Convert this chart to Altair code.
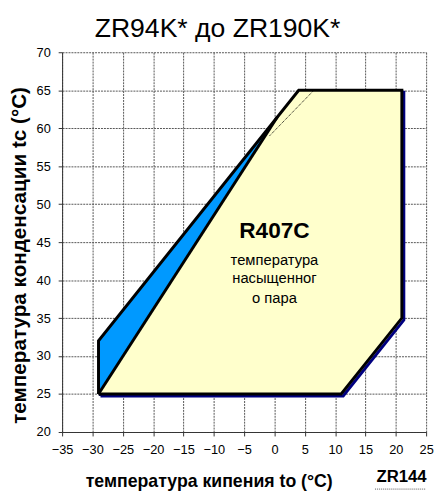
import altair as alt
import pandas as pd

# ---- data ----
# outer operating envelope (evaporating t, condensing tc), closed path
env_t = [-29, -29, 4, 21, 21, 11, -29]
env_tc = [25, 32, 65, 65, 35, 25, 25]

# blue region (between outer line and inner diagonal)
blue_t = [-29, 0.5]
blue_lo = [25, 61.5]
blue_hi = [32, 61.5]

# yellow region (R407C saturated vapour envelope)
yel_t = [-29, 0.5, 4, 11, 21]
yel_lo = [25, 25, 25, 25, 35]
yel_hi = [25, 61.5, 65, 65, 65]

# inner diagonal and dotted line
diag_t = [-29, 0.5]
diag_tc = [25, 61.5]
dot_t = [-0.8, 6.5]
dot_tc = [59, 65]

x_ticks = list(range(-35, 30, 5))
y_ticks = list(range(20, 75, 5))

title_text = ["ZR94K* до ZR190K*"]
big_label = ["R407C"]
small_labels = ["температура", "насыщенног", "о пара"]

FONT = "Liberation Sans"

env = pd.DataFrame({"t": env_t, "tc": env_tc, "i": range(len(env_t))})
blue = pd.DataFrame({"t": blue_t, "tc": blue_lo, "tc2": blue_hi})
yel = pd.DataFrame({"t": yel_t, "tc": yel_lo, "tc2": yel_hi})
diag = pd.DataFrame({"t": diag_t, "tc": diag_tc, "i": range(2)})
dot = pd.DataFrame({"t": dot_t, "tc": dot_tc, "i": range(2)})
big = pd.DataFrame({"t": [0], "tc": [46.4], "s": big_label})
small = pd.DataFrame({"t": [0, 0, 0], "tc": [42.7, 40.3, 37.7], "s": small_labels})

xscale = alt.Scale(domain=[-35, 25], nice=False, zero=False)
yscale = alt.Scale(domain=[20, 70], nice=False, zero=False)

xaxis = alt.Axis(values=x_ticks, title="температура кипения to (°C)",
                 titleFont=FONT, titleFontSize=18, titleFontWeight="bold",
                 titleColor="black", titleX=149, titleY=50, titleBaseline="middle",
                 labelFont=FONT, labelFontSize=13, labelColor="black",
                 labelPadding=8, tickSize=4, tickColor="#333", domainColor="#333",
                 gridColor="#555", gridDash=[2, 1], labelFlush=False,
                 labelOverlap=False)
yaxis = alt.Axis(values=y_ticks, title="температура конденсации tc (°C)",
                 titleFont=FONT, titleFontSize=21, titleFontWeight="bold",
                 titleColor="black", titleX=-43, titleY=206, titleBaseline="middle",
                 labelFont=FONT, labelFontSize=13, labelColor="black",
                 labelPadding=8, tickSize=4, tickColor="#333", domainColor="#333",
                 gridColor="#555", gridDash=[2, 1], labelFlush=False,
                 labelOverlap=False)

X = alt.X("t:Q", scale=xscale, axis=xaxis)
Y = alt.Y("tc:Q", scale=yscale, axis=yaxis)

shadow = alt.Chart(env).mark_line(color="#000080", strokeWidth=3, xOffset=2,
                                  yOffset=2, strokeJoin="miter").encode(
    x=X, y=Y, order="i:Q")
blue_area = alt.Chart(blue).mark_area(color="#0099FF", opacity=1).encode(
    x=X, y=Y, y2="tc2:Q")
yel_area = alt.Chart(yel).mark_area(color="#FFFFCC", opacity=1).encode(
    x=X, y=Y, y2="tc2:Q")
outline = alt.Chart(env).mark_line(color="black", strokeWidth=3,
                                   strokeJoin="miter").encode(
    x=X, y=Y, order="i:Q")
diag_line = alt.Chart(diag).mark_line(color="black", strokeWidth=3).encode(
    x=X, y=Y, order="i:Q")
dot_line = alt.Chart(dot).mark_line(color="black", strokeWidth=1,
                                    strokeDash=[1, 1]).encode(
    x=X, y=Y, order="i:Q")
big_text = alt.Chart(big).mark_text(font=FONT, fontSize=23, fontWeight="bold",
                                    color="black").encode(x=X, y=Y, text="s:N")
small_text = alt.Chart(small).mark_text(font=FONT, fontSize=15,
                                        color="black").encode(x=X, y=Y, text="s:N")
title = alt.Chart(pd.DataFrame({"s": title_text})).mark_text(
    font=FONT, fontSize=27, color="black", baseline="alphabetic").encode(
    x=alt.value(158), y=alt.value(-16), text="s:N")
zr = alt.Chart(pd.DataFrame({"s": ["ZR144"]})).mark_text(
    font=FONT, fontSize=17, fontWeight="bold", color="black",
    baseline="alphabetic").encode(
    x=alt.value(345), y=alt.value(437), text="s:N")
zr_dots = alt.Chart(pd.DataFrame({"s": ["a"]})).mark_rule(
    color="#555", strokeDash=[1, 1], strokeWidth=1).encode(
    x=alt.value(318), x2=alt.value(370), y=alt.value(444))

chart = alt.layer(shadow, blue_area, yel_area, outline, diag_line, dot_line,
                  big_text, small_text, title, zr, zr_dots).properties(
    width=370, height=386,
    autosize=alt.AutoSizeParams(type="none"),
    padding={"left": 55, "top": 41, "right": 8, "bottom": 58},
).configure_view(stroke=None)

chart.save("out.html", embed_options={"renderer": "svg", "actions": False})
